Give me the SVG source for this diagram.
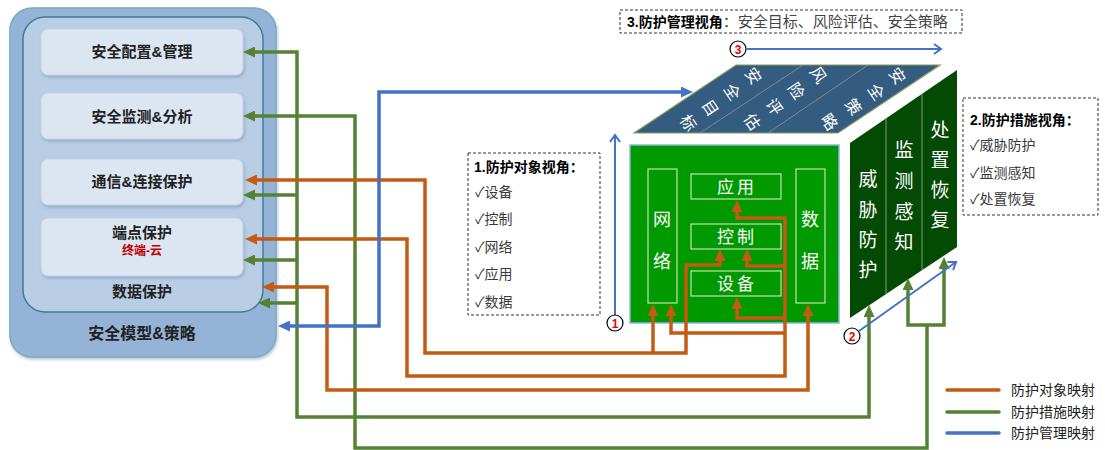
<svg xmlns="http://www.w3.org/2000/svg" width="1105" height="450" viewBox="0 0 1105 450">
<defs>
<style>
.t{font-family:"Liberation Sans","Noto Sans CJK SC",sans-serif}
.lb{font-size:15px;font-weight:bold;fill:#222;text-anchor:middle}
.w{fill:#fff;text-anchor:middle;dominant-baseline:central}
.box{fill:#dce6f2;stroke:#c3d3e6;stroke-width:1}
.ib{fill:none;stroke:#c6e0b4;stroke-width:1.2}
.or{fill:none;stroke:#c55a11;stroke-width:3.5;marker-start:url(#ao);marker-end:url(#ao)}
.gr{fill:none;stroke:#548235;stroke-width:3.5;marker-start:url(#ag);marker-end:url(#ag)}
.bl{fill:none;stroke:#4472c4;stroke-width:3.5;marker-start:url(#ab);marker-end:url(#ab)}
.bt{fill:none;stroke:#4472c4;stroke-width:2;marker-end:url(#ac)}
.dash{fill:#fff;stroke:#333;stroke-width:1;stroke-dasharray:3 2}
.item{font-size:14px;fill:#3a3a3a}
.circ{fill:#fff;stroke:#000;stroke-width:1.2}
.num{font-size:12px;font-weight:bold;fill:#e00;text-anchor:middle;dominant-baseline:central}
.lg{font-size:14px;fill:#222}
</style>
<marker id="ao" markerUnits="userSpaceOnUse" markerWidth="12" markerHeight="11" refX="7" refY="5.5" orient="auto-start-reverse"><path d="M0,0 L12,5.5 L0,11 z" fill="#c55a11"/></marker>
<marker id="ag" markerUnits="userSpaceOnUse" markerWidth="12" markerHeight="11" refX="7" refY="5.5" orient="auto-start-reverse"><path d="M0,0 L12,5.5 L0,11 z" fill="#548235"/></marker>
<marker id="ab" markerUnits="userSpaceOnUse" markerWidth="12" markerHeight="11" refX="7" refY="5.5" orient="auto-start-reverse"><path d="M0,0 L12,5.5 L0,11 z" fill="#4472c4"/></marker>
<marker id="ac" markerUnits="userSpaceOnUse" markerWidth="12" markerHeight="12" refX="8" refY="6" orient="auto"><path d="M1,1 L8,6 L1,11" fill="none" stroke="#4472c4" stroke-width="2"/></marker>
<filter id="sh" x="-10%" y="-20%" width="120%" height="150%"><feDropShadow dx="1" dy="2" stdDeviation="1.5" flood-color="#6f87a3" flood-opacity="0.5"/></filter>
</defs>

<g id="left-panel" class="t">
<rect x="10" y="8" width="266" height="349" rx="22" fill="#95b3d7" stroke="#79aac4" stroke-width="1.5" filter="url(#sh)"/>
<rect x="23" y="17" width="240" height="295" rx="22" fill="#b9cde5" stroke="#3b7f97" stroke-width="1.5"/>
<text class="lb" x="142" y="339" style="font-size:16px">安全模型&amp;策略</text>
<text class="lb" x="142" y="297">数据保护</text>
</g>
<g id="n-config" class="t"><rect class="box" x="41" y="29" width="202" height="46" rx="7" filter="url(#sh)"/><text class="lb" x="142" y="57">安全配置&amp;管理</text></g>
<g id="n-monitor" class="t"><rect class="box" x="41" y="93" width="202" height="46" rx="7" filter="url(#sh)"/><text class="lb" x="142" y="122">安全监测&amp;分析</text></g>
<g id="n-comm" class="t"><rect class="box" x="41" y="159" width="202" height="46" rx="7" filter="url(#sh)"/><text class="lb" x="142" y="187">通信&amp;连接保护</text></g>
<g id="n-endpoint" class="t"><rect class="box" x="41" y="218" width="202" height="58" rx="7" filter="url(#sh)"/><text class="lb" x="142" y="238">端点保护</text><text class="lb" x="142" y="255" style="font-size:12px;fill:#c00000">终端-云</text></g>

<g id="top-face" class="t">
<polygon points="634,133 736,65 940,65 838,133" fill="#335c80" stroke="#8a9a5b" stroke-width="1.2"/>
<line x1="700" y1="133" x2="803" y2="65" stroke="#888" stroke-width="1"/>
<line x1="768" y1="133" x2="868" y2="65" stroke="#888" stroke-width="1"/>
<g style="font-size:16px">
<text class="w" x="753" y="76" transform="rotate(56 753 76)">安</text>
<text class="w" x="732" y="92" transform="rotate(56 732 92)">全</text>
<text class="w" x="710" y="108" transform="rotate(56 710 108)">目</text>
<text class="w" x="688" y="123" transform="rotate(56 688 123)">标</text>
<text class="w" x="818" y="75" transform="rotate(56 818 75)">风</text>
<text class="w" x="796" y="91" transform="rotate(56 796 91)">险</text>
<text class="w" x="774" y="107" transform="rotate(56 774 107)">评</text>
<text class="w" x="752" y="122" transform="rotate(56 752 122)">估</text>
<text class="w" x="897" y="76" transform="rotate(56 897 76)">安</text>
<text class="w" x="876" y="92" transform="rotate(56 876 92)">全</text>
<text class="w" x="853" y="107" transform="rotate(56 853 107)">策</text>
<text class="w" x="829" y="122" transform="rotate(56 829 122)">略</text>
</g>
</g>

<g id="front-face" class="t">
<rect x="630" y="145" width="209" height="178" fill="#009900" stroke="#8eb4e3" stroke-width="1.5"/>
<rect class="ib" x="648" y="169" width="29" height="134"/>
<text class="w" x="662" y="220" style="font-size:18px">网</text>
<text class="w" x="662" y="262" style="font-size:18px">络</text>
<rect class="ib" x="796" y="169" width="29" height="134"/>
<text class="w" x="810" y="220" style="font-size:18px">数</text>
<text class="w" x="810" y="262" style="font-size:18px">据</text>
<rect class="ib" x="691" y="174" width="90" height="25"/>
<text class="w" x="737" y="187" style="font-size:17px;letter-spacing:3px">应用</text>
<rect class="ib" x="691" y="224" width="90" height="25"/>
<text class="w" x="737" y="237" style="font-size:17px;letter-spacing:3px">控制</text>
<rect class="ib" x="691" y="271" width="90" height="25"/>
<text class="w" x="737" y="284" style="font-size:17px;letter-spacing:3px">设备</text>
</g>

<g id="right-face" class="t">
<polygon points="850,143 957,70 957,247 850,318" fill="#034a03"/>
<line x1="886" y1="118" x2="886" y2="294" stroke="#7f9f7f" stroke-width="1"/>
<line x1="922" y1="94" x2="922" y2="270" stroke="#7f9f7f" stroke-width="1"/>
<g style="font-size:19px">
<text class="w" x="868" y="179">威</text><text class="w" x="868" y="210">胁</text><text class="w" x="868" y="240">防</text><text class="w" x="868" y="270">护</text>
<text class="w" x="904" y="150">监</text><text class="w" x="904" y="181">测</text><text class="w" x="904" y="212">感</text><text class="w" x="904" y="242">知</text>
<text class="w" x="940" y="130">处</text><text class="w" x="940" y="160">置</text><text class="w" x="940" y="190">恢</text><text class="w" x="940" y="220">复</text>
</g>
</g>

<g id="note-mgmt" class="t">
<rect class="dash" x="620" y="10" width="342" height="23"/>
<text x="627" y="27" style="font-size:14px;font-weight:bold;fill:#000">3.防护管理视角<tspan style="font-weight:normal;font-size:15px;fill:#444">：安全目标、风险评估、安全策略</tspan></text>
</g>
<g id="note-object" class="t">
<rect class="dash" x="468" y="153" width="132" height="162"/>
<text x="474" y="172" style="font-size:14px;font-weight:bold;fill:#000">1.防护对象视角：</text>
<text class="item" x="475" y="197">✓设备</text>
<text class="item" x="475" y="224">✓控制</text>
<text class="item" x="475" y="252">✓网络</text>
<text class="item" x="475" y="279">✓应用</text>
<text class="item" x="475" y="307">✓数据</text>
</g>
<g id="note-measure" class="t">
<rect class="dash" x="963" y="98" width="135" height="117"/>
<text x="970" y="125" style="font-size:14px;font-weight:bold;fill:#000">2.防护措施视角：</text>
<text class="item" x="970" y="150">✓威胁防护</text>
<text class="item" x="970" y="178">✓监测感知</text>
<text class="item" x="970" y="204">✓处置恢复</text>
</g>

<g id="connectors">
<path class="gr" d="M248,52 L297,52 L297,417 L869,417 L869,310"/>
<path class="gr" style="marker-end:none" d="M248,195 L297,195"/>
<path class="gr" style="marker-end:none" d="M248,260 L297,260"/>
<path class="gr" style="marker-end:none" d="M263,303 L297,303"/>
<path class="gr" style="marker-end:none" d="M248,116 L355,116 L355,448 L927,448 L927,325"/>
<path class="gr" d="M908,283 L908,325 L944,325 L944,262"/>

<path class="or" d="M250,180 L425,180 L425,353 L686,353 L686,265 L720,265 L720,254"/>
<path class="or" style="marker-start:none" d="M653,353 L653,309"/>
<path class="or" d="M250,239 L407,239 L407,376 L785,376 L785,218 L737,218 L737,205"/>
<path class="or" style="marker-start:none" d="M785,266 L747,266 L747,254"/>
<path class="or" style="marker-start:none" d="M785,318 L737,318 L737,302"/>
<path class="or" style="marker-start:none" d="M785,333 L671,333 L671,309"/>
<path class="or" d="M267,287 L327,287 L327,390 L808,390 L808,309"/>

<path class="bl" d="M283,326 L379,326 L379,92 L688,92"/>
<path class="bt" d="M615,315 L615,135"/>
<path class="bt" d="M859,331 L956,262"/>
<path class="bt" d="M747,49 L941,49"/>
</g>

<g id="markers-num" class="t">
<circle class="circ" cx="615" cy="323" r="8"/><text class="num" x="615" y="324">1</text>
<circle class="circ" cx="852" cy="336" r="8"/><text class="num" x="852" y="337">2</text>
<circle class="circ" cx="738" cy="49" r="8"/><text class="num" x="738" y="50">3</text>
</g>

<g id="legend" class="t">
<line x1="947" y1="390" x2="999" y2="390" stroke="#c55a11" stroke-width="3.5" stroke-linecap="round"/>
<line x1="947" y1="412" x2="999" y2="412" stroke="#548235" stroke-width="3.5" stroke-linecap="round"/>
<line x1="947" y1="433" x2="999" y2="433" stroke="#4472c4" stroke-width="3.5" stroke-linecap="round"/>
<text class="lg" x="1011" y="395">防护对象映射</text>
<text class="lg" x="1011" y="417">防护措施映射</text>
<text class="lg" x="1011" y="438">防护管理映射</text>
</g>
</svg>
